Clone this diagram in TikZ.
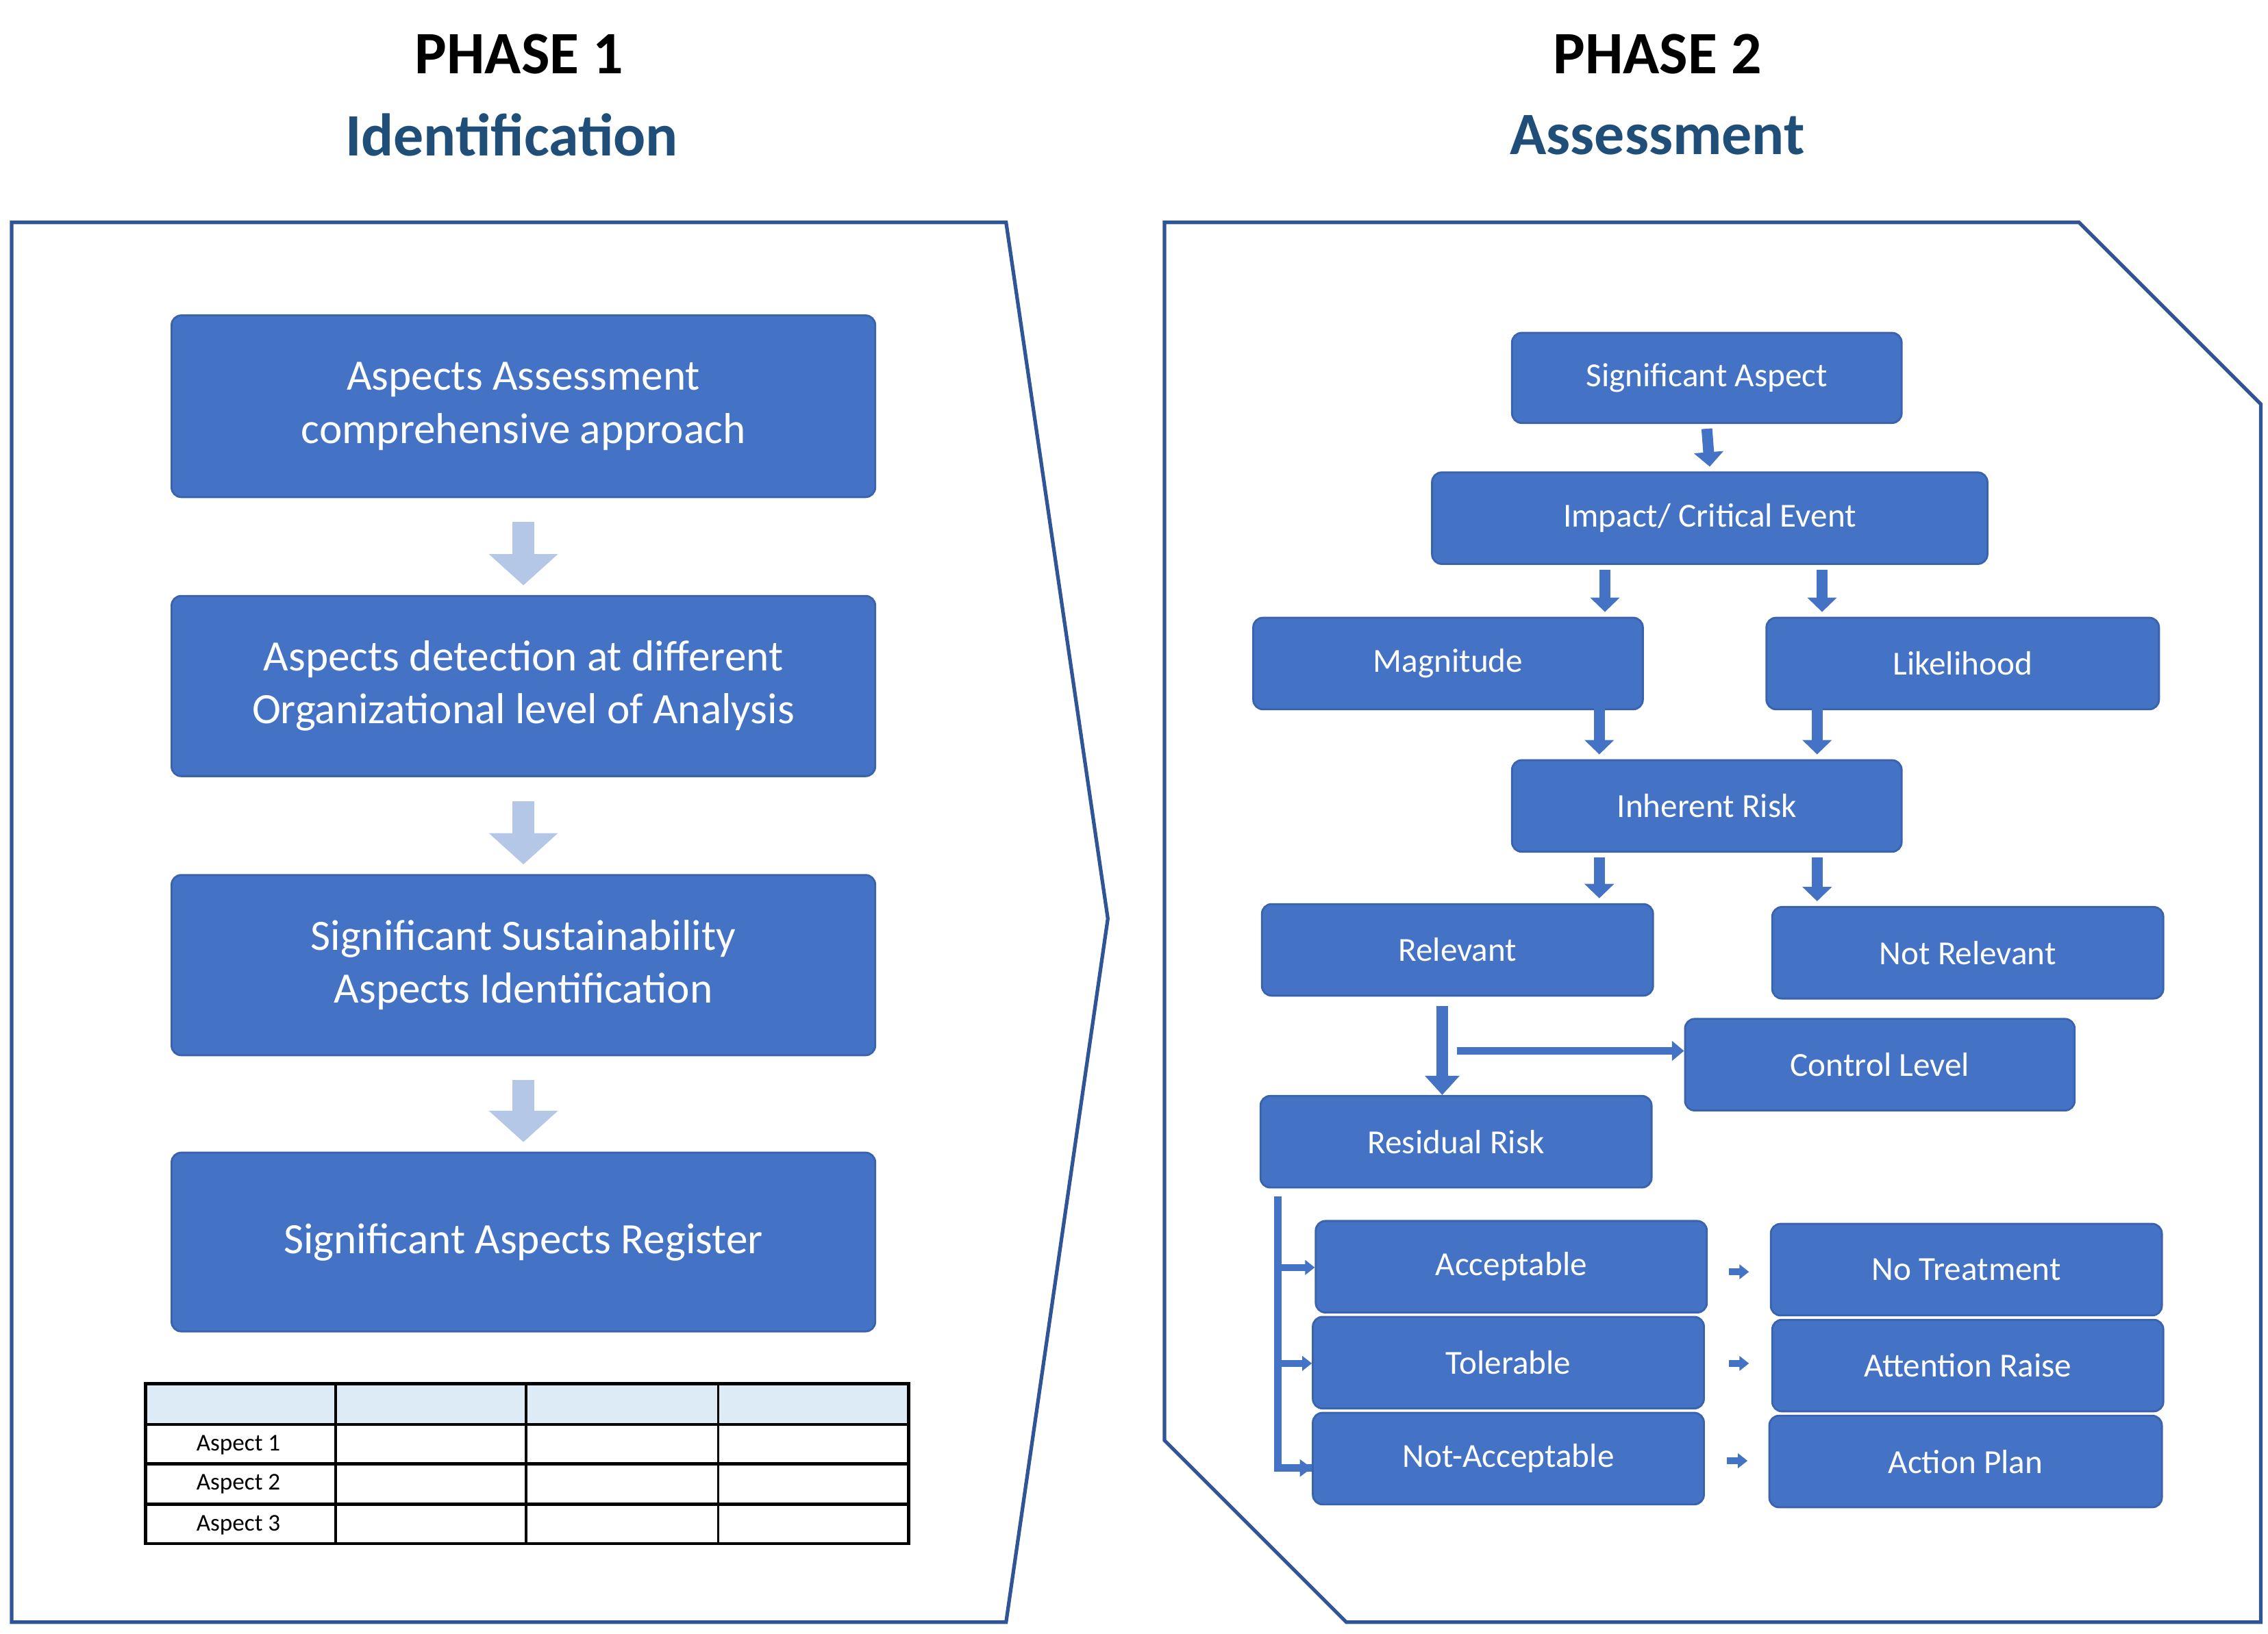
\documentclass[tikz,border=0pt]{standalone}
\usepackage{fontspec}
\setmainfont{Carlito}
\usetikzlibrary{fit,arrows.meta}
\definecolor{boxblue}{HTML}{4472C4}
\definecolor{edgeblue}{HTML}{3A63AD}
\definecolor{frame}{HTML}{2F5597}
\definecolor{titleblue}{HTML}{1F4E79}
\definecolor{light}{HTML}{B4C7E7}
\definecolor{hdr}{HTML}{DDEBF7}
\tikzset{
  bigbox/.style={draw=edgeblue,fill=boxblue,rounded corners=4pt,inner sep=0pt,line width=0.8pt},
  smbox/.style={draw=edgeblue,fill=boxblue,rounded corners=4pt,inner sep=0pt,line width=0.8pt},
  bigtxt/.style={text=white,font=\fontsize{18}{22}\selectfont,align=center},
  smtxt/.style={text=white,font=\fontsize{14}{17}\selectfont},
  lightarr/.style={light,line width=9pt,-{Triangle[width=28pt,length=13pt]}},
  barr/.style={boxblue,line width=4.5pt,-{Triangle[width=12pt,length=6pt]}},
  thinarr/.style={boxblue,line width=2.5pt,-{Triangle[width=8pt,length=5pt]}},
  tinyarr/.style={boxblue,line width=3pt,-{Triangle[width=6pt,length=4pt]}},
  framel/.style={frame,line width=1.5pt},
}
\begin{document}
\begin{tikzpicture}[x=0.021224cm,y=-0.021224cm]
\useasboundingbox (0,0) rectangle (1560,1124);
% titles
\node[font=\fontsize{25}{30}\selectfont\bfseries] (p1) at (357,37) {PHASE 1};
\node[font=\fontsize{25}{30}\selectfont\bfseries,text=titleblue] (t1) at (352,93) {Identification};
\node[font=\fontsize{25}{30}\selectfont\bfseries] (p2) at (1140,37) {PHASE 2};
\node[font=\fontsize{25}{30}\selectfont\bfseries,text=titleblue] (t2) at (1140,93) {Assessment};
% frames
\draw[framel] (8,153) -- (692,153) -- (762,632) -- (692,1116) -- (8,1116) -- cycle;
\draw[framel] (801,153) -- (1430,153) -- (1555,278) -- (1555,1116) -- (926,1116) -- (801,991) -- cycle;
% phase 1 boxes
\node[bigbox,fit={(118,217) (602,342)},label={[bigtxt]center:Aspects Assessment\\comprehensive approach}] (a1) {};
\node[bigbox,fit={(118,410) (602,534)},label={[bigtxt]center:Aspects detection at different\\Organizational level of Analysis}] (a2) {};
\node[bigbox,fit={(118,602) (602,726)},label={[bigtxt]center:Significant Sustainability\\Aspects Identification}] (a3) {};
\node[bigbox,fit={(118,793) (602,916)},label={[bigtxt]center:Significant Aspects Register}] (a4) {};
\draw[lightarr] ([yshift=-10pt]a1.south) -- ([yshift=4pt]a2.north);
\draw[lightarr] ([yshift=-10pt]a2.south) -- ([yshift=4pt]a3.north);
\draw[lightarr] ([yshift=-10pt]a3.south) -- ([yshift=4pt]a4.north);
% table
\fill[hdr] (100,952) rectangle (625,980);
\draw[line width=1.3pt] (100,952) rectangle (625,1062);
\foreach \yy in {980,1007,1035} \draw[line width=1.3pt] (100,\yy) -- (625,\yy);
\foreach \xx in {231,362,494} \draw[line width=1.1pt] (\xx,952) -- (\xx,1062);
\node[font=\fontsize{10}{12}\selectfont] (r1) at (164,994) {Aspect 1};
\node[font=\fontsize{10}{12}\selectfont] (r2) at (164,1021) {Aspect 2};
\node[font=\fontsize{10}{12}\selectfont] (r3) at (164,1049) {Aspect 3};
% phase 2 boxes
\node[smbox,fit={(1040,229) (1308,291)},label={[smtxt]center:Significant Aspect}] (sa) {};
\node[smbox,fit={(985,325) (1367,388)},label={[smtxt]center:Impact/ Critical Event}] (ice) {};
\node[smbox,fit={(862,425) (1130,488)},label={[smtxt]center:Magnitude}] (mag) {};
\node[smbox,fit={(1215,425) (1485,488)},label={[smtxt]center:Likelihood}] (lik) {};
\node[smbox,fit={(1040,523) (1308,586)},label={[smtxt]center:Inherent Risk}] (ir) {};
\node[smbox,fit={(868,622) (1137,685)},label={[smtxt]center:Relevant}] (rel) {};
\node[smbox,fit={(1219,624) (1488,687)},label={[smtxt]center:Not Relevant}] (nrel) {};
\node[smbox,fit={(1159,701) (1427,764)},label={[smtxt]center:Control Level}] (cl) {};
\node[smbox,fit={(867,754) (1136,817)},label={[smtxt]center:Residual Risk}] (rr) {};
\node[smbox,fit={(905,840) (1174,903)},label={[smtxt]center:Acceptable}] (acc) {};
\node[smbox,fit={(903,906) (1172,969)},label={[smtxt]center:Tolerable}] (tol) {};
\node[smbox,fit={(903,972) (1172,1035)},label={[smtxt]center:Not-Acceptable}] (nacc) {};
\node[smbox,fit={(1218,842) (1487,905)},label={[smtxt]center:No Treatment}] (nt) {};
\node[smbox,fit={(1219,908) (1488,971)},label={[smtxt]center:Attention Raise}] (ar) {};
\node[smbox,fit={(1217,974) (1487,1037)},label={[smtxt]center:Action Plan}] (ap) {};
% phase 2 arrows
\draw[barr] ([yshift=-2pt]sa.south) -- ([yshift=2pt]ice.north);
\draw[barr] ([xshift=-72\pgflinewidth*0+ -1.53cm, yshift=-2pt]ice.south) -- ([xshift=-1.53cm,yshift=2pt]ice.south |- mag.north);
\draw[barr] ([xshift=1.64cm, yshift=-2pt]ice.south) -- ([xshift=1.64cm,yshift=2pt]ice.south |- lik.north);
\draw[barr] ([xshift=-1.57cm, yshift=2pt]ir.north |- mag.south) -- ([xshift=-1.57cm,yshift=2pt]ir.north);
\draw[barr] ([xshift=1.61cm, yshift=2pt]ir.north |- lik.south) -- ([xshift=1.61cm,yshift=2pt]ir.north);
\draw[barr] ([xshift=-1.57cm, yshift=-2pt]ir.south) -- ([xshift=-1.57cm,yshift=2pt]ir.south |- rel.north);
\draw[barr] ([xshift=1.61cm, yshift=-2pt]ir.south) -- ([xshift=1.61cm,yshift=2pt]ir.south |- nrel.north);
% relevant -> residual / control
\coordinate (rb) at (992,692);
\coordinate (rh) at (1002,723);
\draw[boxblue,line width=5pt,-{Triangle[width=14pt,length=8pt]}] (rb) -- (rb |- rr.north);
\draw[boxblue,line width=3pt,-{Triangle[width=8pt,length=5pt]}] (rh) -- (cl.west |- rh);
% bracket
\coordinate (bt) at (879,823);
\draw[boxblue,line width=3pt] (bt) -- (879,1010) -- (nacc.west |- 879,1010);
\draw[boxblue,line width=2.5pt,-{Triangle[width=7pt,length=5pt]}] (879,1010) -- (nacc.west |- 879,1010);
\draw[tinyarr] (879,872) -- (acc.west |- 879,872);
\draw[tinyarr] (879,938) -- (tol.west |- 879,938);
% small arrows between columns
\coordinate (s1) at (1189,875);
\coordinate (s2) at (1189,938);
\coordinate (s3) at (1188,1005);
\draw[tinyarr] (s1) -- +(14,0);
\draw[tinyarr] (s2) -- +(14,0);
\draw[tinyarr] (s3) -- +(14,0);
\end{tikzpicture}
\end{document}
